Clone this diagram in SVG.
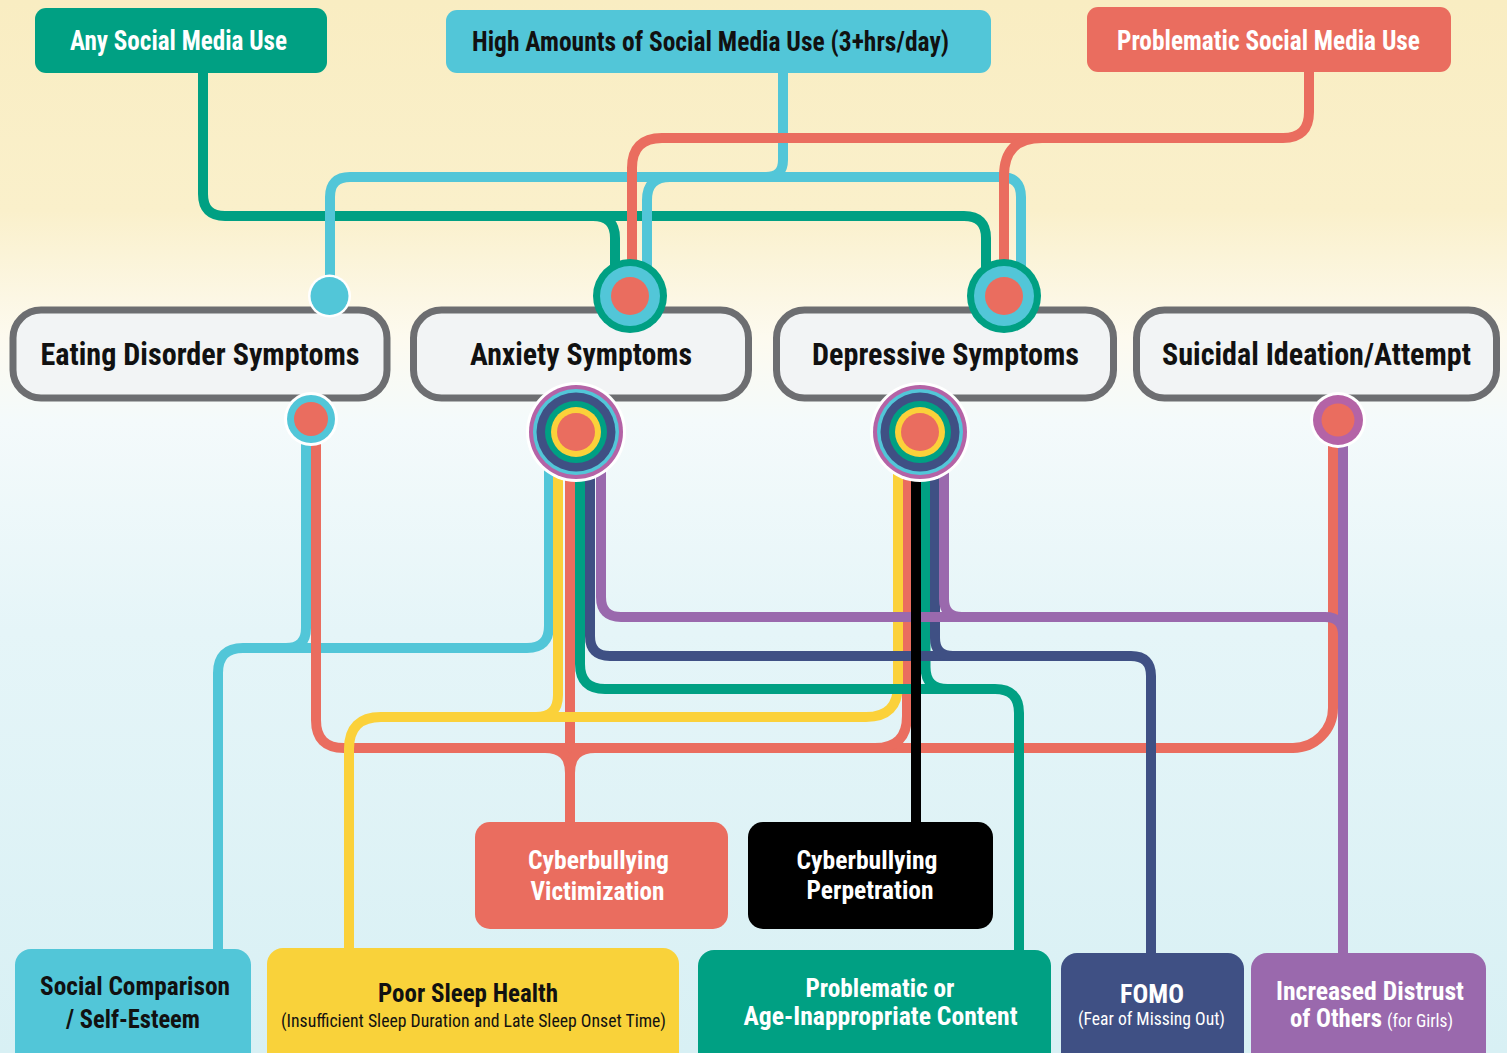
<svg xmlns="http://www.w3.org/2000/svg" width="1507" height="1053" viewBox="0 0 1507 1053">
<defs>
<linearGradient id="bg" x1="0" y1="0" x2="0" y2="1">
<stop offset="0" stop-color="#f9edc2"/>
<stop offset="0.2" stop-color="#faf0cb"/>
<stop offset="0.32" stop-color="#fdfaef"/>
<stop offset="0.4" stop-color="#f4fafb"/>
<stop offset="0.6" stop-color="#e5f5f8"/>
<stop offset="1" stop-color="#d8f0f4"/>
</linearGradient>
<style>
.t{font-family:"Roboto Condensed","Liberation Sans Narrow","DejaVu Sans Condensed",Roboto,"Liberation Sans",sans-serif;font-weight:bold;text-anchor:middle}
.r{font-family:"Roboto Condensed","Liberation Sans Narrow","DejaVu Sans Condensed",Roboto,"Liberation Sans",sans-serif;font-weight:normal;text-anchor:middle}
.w{fill:#ffffff}
.k{fill:#111111}
.mid{fill:#f2f4f5;stroke:#6d6e71;stroke-width:7}
.c{fill:none;stroke-width:10;stroke-linecap:butt;stroke-linejoin:round}
.cy{stroke:#52c6d8}
.co{stroke:#ea6d5f}
.ye{stroke:#fbd13a}
.te{stroke:#00a083}
.na{stroke:#3f5084}
.pu{stroke:#9a69ad}
.bl{stroke:#000000}
</style>
</defs>
<rect x="0" y="0" width="1507" height="1053" fill="url(#bg)"/>

<g id="mid-boxes">
<g id="node-eating"><rect class="mid" x="13" y="310" width="374" height="88" rx="28"/><text class="t k" x="200" y="365" font-size="31" textLength="319" lengthAdjust="spacingAndGlyphs">Eating Disorder Symptoms</text></g>
<g id="node-anxiety"><rect class="mid" x="413.5" y="310" width="335" height="88" rx="28"/><text class="t k" x="581" y="365" font-size="31" textLength="222" lengthAdjust="spacingAndGlyphs">Anxiety Symptoms</text></g>
<g id="node-depressive"><rect class="mid" x="776.5" y="310" width="337" height="88" rx="28"/><text class="t k" x="945.5" y="365" font-size="31" textLength="267" lengthAdjust="spacingAndGlyphs">Depressive Symptoms</text></g>
<g id="node-suicidal"><rect class="mid" x="1136.5" y="310" width="360" height="88" rx="28"/><text class="t k" x="1316.5" y="365" font-size="31" textLength="309" lengthAdjust="spacingAndGlyphs">Suicidal Ideation/Attempt</text></g>
</g>

<g id="connectors">
<!-- top: any social media use (teal) -->
<path class="c te" d="M203,70 V194 Q203,216 225,216 H964 Q986,216 986,238 V290"/>
<path class="c te" d="M593,216 Q615,216 615,238 V290"/>
<!-- top: high amounts (cyan) -->
<path class="c cy" d="M783,70 V160 Q783,177 766,177"/>
<path class="c cy" d="M330,290 V197 Q330,177 350,177 H1001 Q1021,177 1021,197 V285"/>
<path class="c cy" d="M647,285 V200 Q647,177 670,177 H700"/>
<!-- top: problematic (coral) -->
<path class="c co" d="M1309,70 V112 Q1309,138 1283,138 H662 Q632,138 632,168 V296"/>
<path class="c co" d="M1042,138 Q1004,138 1004,176 V296"/>

<!-- bottom: cyan -->
<path class="c cy" d="M549,440 V626 Q549,648 527,648 H243 Q218,648 218,673 V958"/>
<path class="c cy" d="M306,425 V628 Q306,648 286,648"/>
<!-- bottom: coral -->
<path class="c co" d="M316,425 V720 Q316,748 344,748 H1293 A40,40 0 0 0 1333,708 V425"/>
<path class="c co" d="M570,440 V826"/>
<path class="c co" d="M545,748 Q570,748 570,773"/>
<path class="c co" d="M595,748 Q570,748 570,773"/>
<path class="c co" d="M907,440 V716 Q907,748 875,748 H850"/>
<!-- bottom: yellow -->
<path class="c ye" d="M558,440 V695 Q558,717 536,717 H381 Q349,717 349,749 V956"/>
<path class="c ye" d="M898,440 V685 Q898,717 866,717 H536"/>
<!-- bottom: teal -->
<path class="c te" d="M580,440 V664 Q580,689 605,689 H995 Q1019,689 1019,713 V958"/>
<path class="c te" d="M925.5,440 V667 Q925.5,689 947.5,689 H965"/>
<!-- bottom: navy -->
<path class="c na" d="M590,440 V636 Q590,656 610,656 H1131 Q1151,656 1151,676 V960"/>
<path class="c na" d="M935,440 V638 Q935,656 953,656 H975"/>
<!-- bottom: purple -->
<path class="c pu" d="M1343,425 V960"/>
<path class="c pu" d="M601,440 V597 Q601,617 621,617 H1325 Q1343,617 1343,635"/>
<path class="c pu" d="M944,440 V599 Q944,617 962,617 H985"/>
<!-- bottom: black -->
<path class="c bl" d="M916,440 V826"/>
</g>

<g id="hubs">
<g id="hub-eating-top"><circle cx="329.5" cy="296" r="21.5" fill="#ffffff"/><circle cx="329.5" cy="296" r="19" fill="#52c6d8"/></g>
<g id="hub-anxiety-top"><circle cx="630" cy="296" r="37" fill="#00a083"/><circle cx="630" cy="296" r="30" fill="#52c6d8"/><circle cx="630" cy="296" r="19" fill="#ea6d5f"/></g>
<g id="hub-depressive-top"><circle cx="1004" cy="296" r="37" fill="#00a083"/><circle cx="1004" cy="296" r="30" fill="#52c6d8"/><circle cx="1004" cy="296" r="19" fill="#ea6d5f"/></g>
<g id="hub-eating-bottom"><circle cx="311" cy="419" r="27" fill="#ffffff"/><circle cx="311" cy="419" r="24" fill="#52c6d8"/><circle cx="311" cy="419" r="17" fill="#ea6d5f"/></g>
<g id="hub-anxiety-bottom"><circle cx="576" cy="432" r="50" fill="#ffffff"/><circle cx="576" cy="432" r="47" fill="#b463a6"/><circle cx="576" cy="432" r="43" fill="#52c6d8"/><circle cx="576" cy="432" r="39.5" fill="#3f5084"/><circle cx="576" cy="432" r="31" fill="#00a083"/><circle cx="576" cy="432" r="25" fill="#fbd13a"/><circle cx="576" cy="432" r="19" fill="#ea6d5f"/></g>
<g id="hub-depressive-bottom"><circle cx="920" cy="432" r="50" fill="#ffffff"/><circle cx="920" cy="432" r="47" fill="#b463a6"/><circle cx="920" cy="432" r="43" fill="#52c6d8"/><circle cx="920" cy="432" r="39.5" fill="#3f5084"/><circle cx="920" cy="432" r="31" fill="#00a083"/><circle cx="920" cy="432" r="25" fill="#fbd13a"/><circle cx="920" cy="432" r="19" fill="#ea6d5f"/></g>
<g id="hub-suicidal-bottom"><circle cx="1338" cy="420" r="28" fill="#ffffff"/><circle cx="1338" cy="420" r="25" fill="#b463a6"/><circle cx="1338" cy="420" r="16.5" fill="#ea6d5f"/></g>
</g>

<g id="top-boxes">
<g id="node-any"><rect x="35" y="8" width="292" height="65" rx="11" fill="#00a083"/><text class="t w" x="178.5" y="50" font-size="27" textLength="217" lengthAdjust="spacingAndGlyphs">Any Social Media Use</text></g>
<g id="node-high"><rect x="446" y="10" width="545" height="63" rx="11" fill="#52c6d8"/><text class="t k" x="710.5" y="51" font-size="27" textLength="477" lengthAdjust="spacingAndGlyphs">High Amounts of Social Media Use (3+hrs/day)</text></g>
<g id="node-problematic"><rect x="1087" y="7" width="364" height="65" rx="11" fill="#ea6d5f"/><text class="t w" x="1268.5" y="50" font-size="27" textLength="303" lengthAdjust="spacingAndGlyphs">Problematic Social Media Use</text></g>
</g>

<g id="bottom-boxes">
<g id="node-victimization"><rect x="475" y="822" width="253" height="107" rx="15" fill="#ea6d5f"/><text class="t w" x="598.5" y="869" font-size="26" textLength="141" lengthAdjust="spacingAndGlyphs">Cyberbullying</text><text class="t w" x="597.5" y="900" font-size="26" textLength="134" lengthAdjust="spacingAndGlyphs">Victimization</text></g>
<g id="node-perpetration"><rect x="748" y="822" width="245" height="107" rx="15" fill="#000000"/><text class="t w" x="867" y="869" font-size="26" textLength="141" lengthAdjust="spacingAndGlyphs">Cyberbullying</text><text class="t w" x="870" y="899" font-size="26" textLength="127" lengthAdjust="spacingAndGlyphs">Perpetration</text></g>
<g id="node-social"><rect x="15" y="949" width="236" height="125" rx="16" fill="#52c6d8"/><text class="t k" x="135" y="995" font-size="26" textLength="190" lengthAdjust="spacingAndGlyphs">Social Comparison</text><text class="t k" x="133" y="1028" font-size="26" textLength="134" lengthAdjust="spacingAndGlyphs">/ Self-Esteem</text></g>
<g id="node-sleep"><rect x="267" y="948" width="412" height="125" rx="16" fill="#f9d23a"/><text class="t k" x="468" y="1002" font-size="26" textLength="180" lengthAdjust="spacingAndGlyphs">Poor Sleep Health</text><text class="r k" x="473.5" y="1027" font-size="19" textLength="385" lengthAdjust="spacingAndGlyphs">(Insufficient Sleep Duration and Late Sleep Onset Time)</text></g>
<g id="node-content"><rect x="698" y="950" width="353" height="125" rx="16" fill="#00a083"/><text class="t w" x="880" y="997" font-size="26" textLength="149" lengthAdjust="spacingAndGlyphs">Problematic or</text><text class="t w" x="880.5" y="1025" font-size="26" textLength="274" lengthAdjust="spacingAndGlyphs">Age-Inappropriate Content</text></g>
<g id="node-fomo"><rect x="1061" y="953" width="183" height="122" rx="16" fill="#3f5084"/><text class="t w" x="1152" y="1003" font-size="26" textLength="64" lengthAdjust="spacingAndGlyphs">FOMO</text><text class="r w" x="1151.5" y="1025" font-size="19" textLength="147" lengthAdjust="spacingAndGlyphs">(Fear of Missing Out)</text></g>
<g id="node-distrust"><rect x="1251" y="953" width="235" height="122" rx="16" fill="#9a69ad"/><text class="t w" x="1370" y="1000" font-size="26" textLength="188" lengthAdjust="spacingAndGlyphs">Increased Distrust</text><text class="t w" x="1336" y="1027" font-size="26" textLength="92" lengthAdjust="spacingAndGlyphs">of Others</text><text class="r w" x="1420" y="1027" font-size="19" textLength="66" lengthAdjust="spacingAndGlyphs">(for Girls)</text></g>
</g>
</svg>
